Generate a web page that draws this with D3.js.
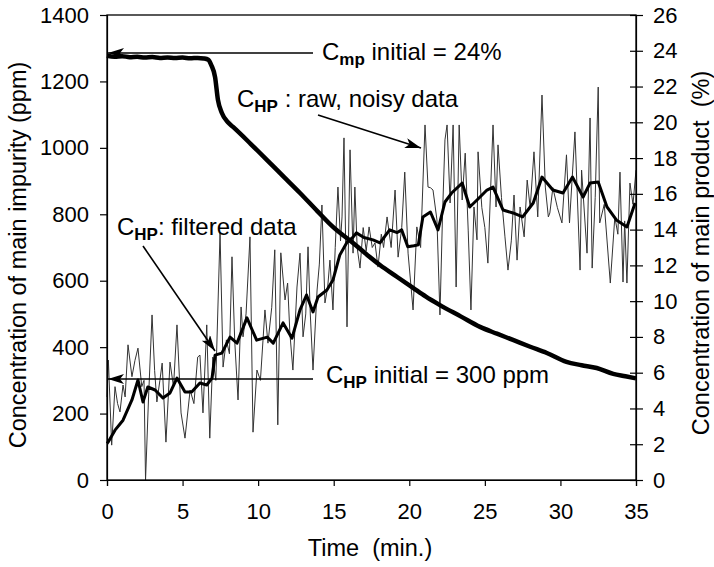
<!DOCTYPE html>
<html><head><meta charset="utf-8">
<script src="https://cdn.jsdelivr.net/npm/d3@7"></script>
<style>
html,body{margin:0;padding:0;background:#fff;}
svg{display:block;font-family:"Liberation Sans",Arial,sans-serif;}
</style></head>
<body>
<svg id="c" width="714" height="567"></svg>
<script>
// ---- data ----
const xTicks = [0,5,10,15,20,25,30,35];
const leftTicks = [0,200,400,600,800,1000,1200,1400];
const rightTicks = [0,2,4,6,8,10,12,14,16,18,20,22,24,26];

// main product concentration (%), right axis
const cmpTime = [0,0.5,1,1.5,2,2.5,3,3.5,4,4.5,5,5.5,6,6.4,6.7,6.9,7.15,7.34,7.6,8.0,8.34,9.5,10.59,11.7,12.77,13.9,14.95,16.28,17.2,18.06,19.2,20.25,21.1,22.03,23.4,24.68,25.8,26.86,28.0,29.1,30.4,31.4,32.4,33.5,34.3,35];
const cmpPct  = [23.72,23.66,23.7,23.64,23.66,23.62,23.65,23.6,23.63,23.6,23.62,23.58,23.6,23.57,23.5,23.2,22.53,21.25,20.52,20.0,19.74,18.8,17.89,16.95,16.05,15.05,14.15,13.25,12.6,12.02,11.35,10.74,10.25,9.78,9.15,8.56,8.18,7.83,7.45,7.1,6.6,6.42,6.26,5.93,5.8,5.68];

// impurity, filtered (ppm), left axis
const filtTime = [0,0.07,0.53,1.06,1.65,2.05,2.38,2.7,3.18,3.7,4.17,4.63,5.16,5.6,6.15,6.6,6.95,7.15,7.6,8.14,8.6,9.26,9.9,10.6,11.0,11.65,12.24,12.77,13.2,13.63,13.96,14.55,14.95,15.4,15.88,16.28,16.5,17.0,17.6,18.06,18.7,19.2,19.5,19.9,20.3,20.6,20.9,21.4,21.9,22.36,22.8,23.5,24.0,24.48,25.14,25.54,26.2,26.86,27.5,28.2,28.78,29.5,30.17,30.8,31.5,31.96,32.5,33.08,33.7,34.4,34.94];
const filtPpm  = [110,114,150,180,241,301,235,280,271,247,262,307,265,265,292,286,307,376,382,430,412,488,421,430,412,473,427,512,557,506,551,572,602,677,716,731,744,730,723,714,753,745,753,702,705,708,792,807,753,837,864,894,822,843,873,882,813,804,792,834,912,873,864,912,852,894,897,822,783,762,834];

// impurity, raw noisy data (ppm), left axis
const rawTime = [0,0.09,0.31,0.53,0.7,0.86,1.06,1.2,1.39,1.65,1.85,2.05,2.3,2.45,2.55,2.75,2.98,3.15,3.3,3.5,3.65,3.9,4.17,4.4,4.63,4.9,5.16,5.5,5.75,6.0,6.15,6.35,6.6,6.8,7.0,7.2,7.48,7.68,7.9,8.1,8.27,8.45,8.67,8.87,9.0,9.2,9.46,9.66,9.92,10.15,10.45,10.65,10.9,11.1,11.3,11.5,11.78,11.95,12.1,12.3,12.57,12.77,12.97,13.15,13.3,13.45,13.63,13.9,14.05,14.22,14.42,14.6,14.75,14.95,15.1,15.28,15.45,15.55,15.68,15.88,16.08,16.28,16.4,16.55,16.74,16.95,17.15,17.34,17.55,17.73,17.93,18.15,18.3,18.53,18.8,19.06,19.26,19.5,19.7,19.92,20.25,20.5,20.75,21.04,21.24,21.4,21.57,21.83,22.03,22.2,22.36,22.5,22.7,22.9,23.1,23.3,23.5,23.7,23.9,24.08,24.28,24.48,24.55,24.8,25.0,25.2,25.54,25.74,25.87,26.1,26.33,26.53,26.75,26.93,27.13,27.33,27.6,27.8,28.0,28.25,28.5,28.78,29.0,29.2,29.3,29.5,29.8,30.1,30.4,30.6,30.96,31.3,31.4,31.76,31.96,32.1,32.3,32.5,32.6,32.9,33.3,33.6,33.8,33.94,34.14,34.25,34.4,34.6,34.8,35];
const rawPpm  = [250,361,105,281,230,205,286,250,407,311,360,397,281,300,0,250,497,330,235,300,352,114,355,280,467,202,126,271,230,370,376,202,467,126,370,300,744,340,422,380,672,420,241,521,431,500,732,144,331,300,512,412,520,693,166,684,542,593,442,331,581,683,431,500,702,500,331,572,650,828,533,580,662,512,700,882,720,792,1030,461,994,683,882,700,638,760,690,762,700,714,641,740,700,792,700,873,671,760,927,683,512,762,700,1069,882,880,873,783,497,800,1024,1069,834,1069,581,1069,843,984,750,512,822,723,988,820,760,653,1069,822,1009,850,732,632,720,858,662,822,732,903,820,988,792,1159,882,792,804,880,820,774,979,774,1048,632,933,683,1090,638,850,1183,774,830,593,792,740,927,596,780,593,894,830,933];

// ---- chart ----
const svg = d3.select("#c");
const x = d3.scaleLinear().domain([0,35]).range([107,636]);
const yL = d3.scaleLinear().domain([0,1400]).range([480,15]);
const yR = d3.scaleLinear().domain([0,26]).range([480,15]);

const defs = svg.append("defs");
defs.append("marker").attr("id","ah").attr("markerUnits","userSpaceOnUse")
  .attr("markerWidth",18).attr("markerHeight",12).attr("refX",16).attr("refY",5)
  .attr("orient","auto")
  .append("path").attr("d","M0,0 L16,5 L0,10 L4,5 Z").attr("fill","#000");

// data lines
const lineRaw = d3.line().x((d,i)=>x(rawTime[i])).y(d=>yL(d));
svg.append("path").datum(rawPpm).attr("d",lineRaw)
  .attr("fill","none").attr("stroke","#333").attr("stroke-width",1).attr("stroke-linejoin","miter");

const lineFilt = d3.line().x((d,i)=>x(filtTime[i])).y(d=>yL(d));
svg.append("path").datum(filtPpm).attr("d",lineFilt)
  .attr("fill","none").attr("stroke","#000").attr("stroke-width",3).attr("stroke-linejoin","round");

const lineCmp = d3.line().x((d,i)=>x(cmpTime[i])).y(d=>yR(d)).curve(d3.curveMonotoneX);
svg.append("path").datum(cmpPct).attr("d",lineCmp)
  .attr("fill","none").attr("stroke","#000").attr("stroke-width",4.5).attr("stroke-linejoin","round");

// frame
svg.append("rect").attr("x",107).attr("y",15).attr("width",529).attr("height",465)
  .attr("fill","none").attr("stroke","#000").attr("stroke-width",1.3);

// axes
const fs = "22px";
const gL = svg.append("g").attr("transform","translate(107,0)")
  .call(d3.axisLeft(yL).tickValues(leftTicks).tickFormat(d3.format("d")).tickSizeOuter(0).tickSize(7).tickPadding(11));
const gB = svg.append("g").attr("transform","translate(0,480)")
  .call(d3.axisBottom(x).tickValues(xTicks).tickFormat(d3.format("d")).tickSizeOuter(0).tickSize(6).tickPadding(17));
const gR = svg.append("g").attr("transform","translate(636,0)")
  .call(d3.axisRight(yR).tickValues(rightTicks).tickFormat(d3.format("d")).tickSizeOuter(0).tickSize(7).tickPadding(10));
gR.selectAll(".tick line").attr("x1",-6);
[gL,gB,gR].forEach(g=>{
  g.selectAll("text").attr("font-size",fs).attr("font-family","Liberation Sans, Arial, sans-serif").attr("fill","#000");
  g.selectAll("line,path").attr("stroke","#000").attr("stroke-width",1.2);
});

// axis titles
svg.append("text").attr("x",370).attr("y",556).attr("text-anchor","middle")
  .attr("font-size","23.5px").style("white-space","pre").text("Time  (min.)");
svg.append("text").attr("transform","translate(26,255) rotate(-90)").attr("text-anchor","middle")
  .attr("font-size","23.5px").text("Concentration of main impurity (ppm)");
svg.append("text").attr("transform","translate(709,253) rotate(-90)").attr("text-anchor","middle")
  .attr("font-size","23.5px").text("Concentration of main product  (%)").style("white-space","pre");

// annotations
function label(xp, yp, sub, rest){
  const t = svg.append("text").attr("x",xp).attr("y",yp).attr("font-size","24px").style("white-space","pre");
  t.append("tspan").text("C");
  t.append("tspan").attr("font-size","17px").attr("font-weight","bold").attr("dy",5).text(sub);
  t.append("tspan").attr("dy",-5).text(rest);
}
function arrow(x1,y1,x2,y2){
  svg.append("line").attr("x1",x1).attr("y1",y1).attr("x2",x2).attr("y2",y2)
    .attr("stroke","#000").attr("stroke-width",1.6).attr("marker-end","url(#ah)");
}
label(322,60,"mp"," initial = 24%");
arrow(313,53,108,53);
label(237,107,"HP"," : raw, noisy data");
arrow(318,115,421,148);
label(117,235,"HP",": filtered data");
arrow(143,246,215,351);
label(326,383,"HP"," initial = 300 ppm");
arrow(313,379,108,379);
</script>
</body></html>
